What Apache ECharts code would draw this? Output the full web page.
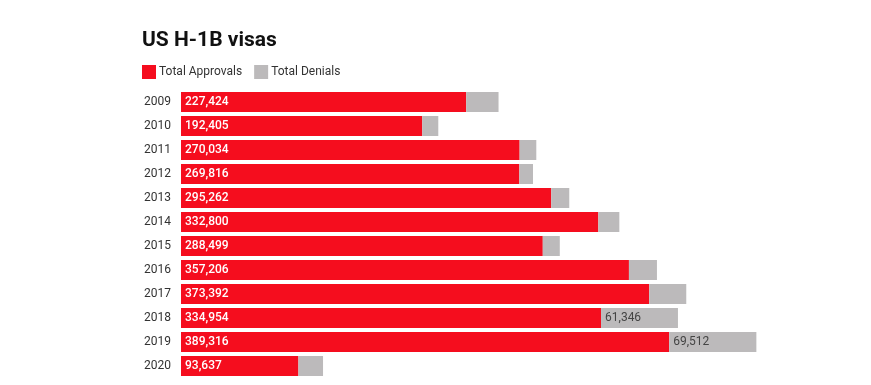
<!DOCTYPE html>
<html>
<head>
<meta charset="utf-8">
<script src="https://cdn.jsdelivr.net/npm/echarts@6/dist/echarts.min.js"></script>
<style>
html,body{margin:0;padding:0;background:#fff;}
#chart{width:871px;height:385px;}
</style>
</head>
<body>
<div id="chart"></div>
<script>
const years = ['2009','2010','2011','2012','2013','2014','2015','2016','2017','2018','2019','2020'];
const approvals = [227424,192405,270034,269816,295262,332800,288499,357206,373392,334954,389316,93637];
const denials = [25800,12770,13300,10900,14360,16760,13570,22340,29530,61346,69512,19630];
const denialLabelShown = [false,false,false,false,false,false,false,false,false,true,true,false];

const chart = echarts.init(document.getElementById('chart'));
const font = 'Roboto, sans-serif';
chart.setOption({
  backgroundColor: '#ffffff',
  animation: false,
  title: {
    text: 'US H-1B visas',
    left: 142, top: 30, padding: 0,
    textStyle: {fontFamily: font, fontSize: 21, fontWeight: 'bold', color: '#111'}
  },
  legend: {
    left: 142, top: 65, padding: 0,
    itemWidth: 14, itemHeight: 14, itemGap: 12,
    icon: 'rect',
    textStyle: {fontFamily: font, fontSize: 12, color: '#333', padding: [0,0,0,-2]},
    data: ['Total Approvals','Total Denials']
  },
  grid: {left: 181, right: 63, top: 90, bottom: 7, containLabel: false},
  xAxis: {
    type: 'value', min: 0, max: 500000, show: false
  },
  yAxis: {
    type: 'category', data: years, inverse: true,
    axisLine: {show: false}, axisTick: {show: false},
    axisLabel: {fontFamily: font, fontSize: 12, color: '#333', margin: 10}
  },
  series: [
    {
      name: 'Total Approvals', type: 'bar', stack: 'v',
      data: approvals, barWidth: 20,
      itemStyle: {color: '#f50d1e'},
      label: {
        show: true, position: 'insideLeft', distance: 4,
        fontFamily: font, fontSize: 12, fontWeight: 500, color: '#fff',
        formatter: p => p.value.toLocaleString('en-US')
      }
    },
    {
      name: 'Total Denials', type: 'bar', stack: 'v',
      data: denials.map((v, i) => ({
        value: v,
        label: {show: denialLabelShown[i]}
      })),
      barWidth: 20,
      itemStyle: {color: '#bcbabb'},
      label: {
        position: 'insideLeft', distance: 4,
        fontFamily: font, fontSize: 12, color: '#444',
        formatter: p => p.value.toLocaleString('en-US')
      }
    }
  ]
});
</script>
</body>
</html>
